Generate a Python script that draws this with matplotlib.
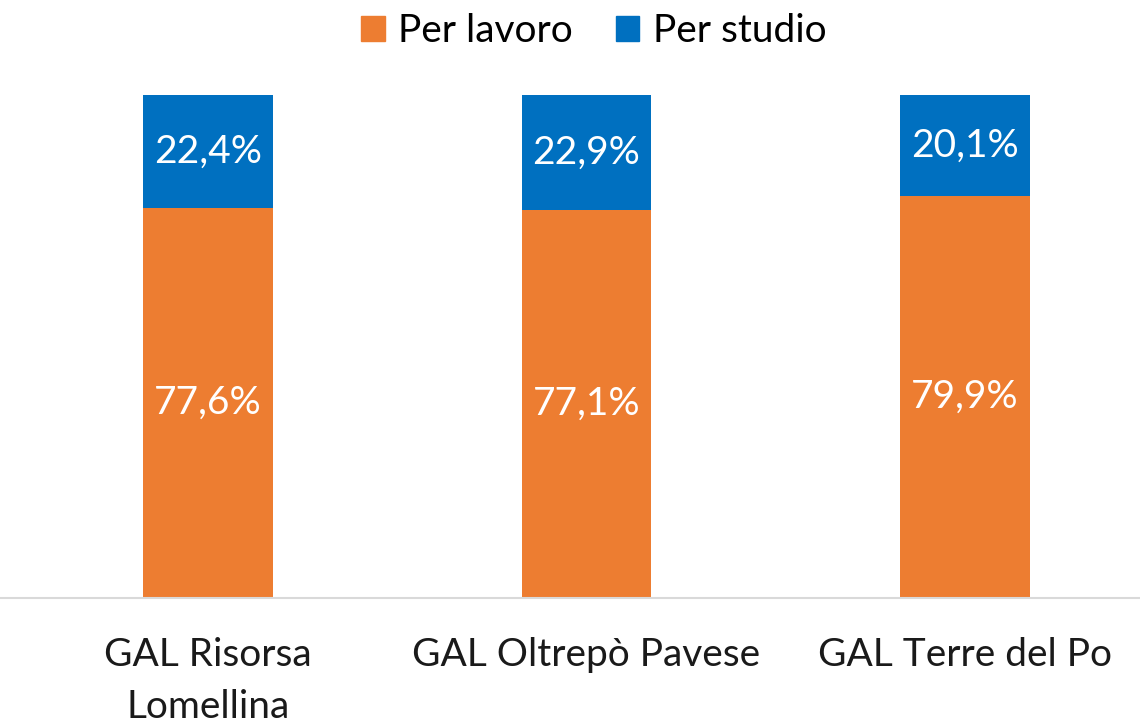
import numpy as np
import matplotlib.pyplot as plt
from matplotlib.patches import Patch

plt.rcParams['font.family'] = ['Lato', 'DejaVu Sans']

categories = ["GAL Risorsa\nLomellina", "GAL Oltrepò Pavese", "GAL Terre del Po"]
lavoro = [77.6, 77.1, 79.9]
studio = [22.4, 22.9, 20.1]
lavoro_labels = ["77,6%", "77,1%", "79,9%"]
studio_labels = ["22,4%", "22,9%", "20,1%"]

c_lavoro = "#ED7D31"
c_studio = "#0070C0"

fig = plt.figure(figsize=(11.4, 7.24), dpi=100)
ax = fig.add_axes([0, 1 - 598 / 724, 1, (598 - 95) / 724])

x = np.arange(len(categories))
w = 0.343
ax.bar(x, lavoro, w, color=c_lavoro)
ax.bar(x, studio, w, bottom=lavoro, color=c_studio)

for i in range(len(x)):
    ax.text(x[i], lavoro[i] / 2, lavoro_labels[i], ha="center", va="center",
            color="white", fontsize=28)
    ax.text(x[i], lavoro[i] + studio[i] / 2, studio_labels[i], ha="center",
            va="center", color="white", fontsize=28)

ax.set_xlim(-0.5495, 2.462)
ax.set_ylim(0, 100)
ax.set_yticks([])
ax.set_xticks(x)
ax.set_xticklabels(categories, fontsize=28, color="#1a1a1a", linespacing=1.55)
ax.tick_params(axis="x", length=0, pad=28)
for s in ["top", "right", "left"]:
    ax.spines[s].set_visible(False)
ax.spines["bottom"].set_color("#D9D9D9")
ax.spines["bottom"].set_linewidth(1.5)

handles = [Patch(color=c_lavoro, label="Per lavoro"),
           Patch(color=c_studio, label="Per studio")]
fig.legend(handles=handles, loc="upper center", bbox_to_anchor=(0.521, 1.03),
           ncol=2, frameon=False, fontsize=28, handlelength=0.6,
           handleheight=0.6, handletextpad=0.35, columnspacing=1.1)

fig.savefig("out.png", dpi=100)
